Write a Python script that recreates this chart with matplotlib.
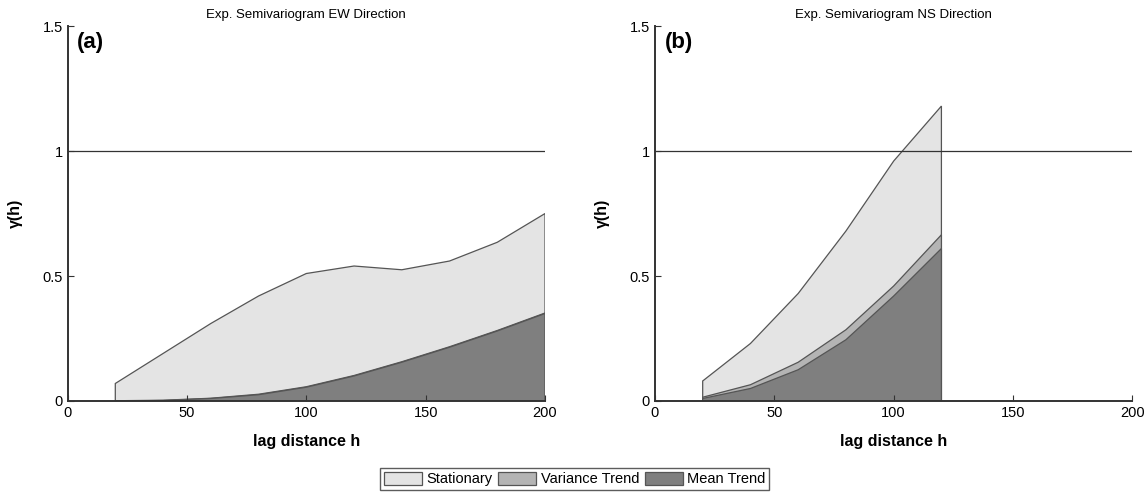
import matplotlib.pyplot as plt
import numpy as np

plt.rcParams['font.family'] = ['Liberation Sans', 'DejaVu Sans']

# EW direction (a)
lagEW = [20, 40, 60, 80, 100, 120, 140, 160, 180, 200]
statEW = [0.07, 0.19, 0.31, 0.42, 0.51, 0.54, 0.525, 0.56, 0.635, 0.75]
varEW = [0.001, 0.003, 0.011, 0.027, 0.057, 0.102, 0.157, 0.217, 0.282, 0.352]
meanEW = [0.0, 0.002, 0.01, 0.025, 0.055, 0.10, 0.155, 0.215, 0.28, 0.35]

# NS direction (b)
lagNS = [20, 40, 60, 80, 100, 120]
statNS = [0.08, 0.23, 0.43, 0.68, 0.96, 1.18]
varNS = [0.015, 0.065, 0.155, 0.285, 0.46, 0.665]
meanNS = [0.01, 0.05, 0.125, 0.245, 0.42, 0.61]

titles = ['Exp. Semivariogram EW Direction', 'Exp. Semivariogram NS Direction']
panelLabels = ['(a)', '(b)']
seriesNames = ['Stationary', 'Variance Trend', 'Mean Trend']
colors = ['#e4e4e4', '#b4b4b4', '#7f7f7f']
xticks = [0, 50, 100, 150, 200]
yticks = [0, 0.5, 1, 1.5]
yticklabels = ['0', '0.5', '1', '1.5']

fig = plt.figure(figsize=(11.45, 4.92), dpi=100)
axA = fig.add_axes([0.059, 0.185, 0.417, 0.762])
axB = fig.add_axes([0.572, 0.185, 0.417, 0.762])

data = [(lagEW, statEW, varEW, meanEW), (lagNS, statNS, varNS, meanNS)]
handles = []
for k, ax in enumerate([axA, axB]):
    lag, st, va, me = data[k]
    lag = np.array(lag)
    hs = []
    for vals, c in zip([st, va, me], colors):
        # close the area at both ends so the vertical edges show
        xs = np.concatenate([[lag[0]], lag, [lag[-1]]])
        ys = np.concatenate([[0], vals, [0]])
        h = ax.fill(xs, ys, facecolor=c, edgecolor='#555555', linewidth=0.9)[0]
        hs.append(h)
    handles = hs
    ax.axhline(1, color='#333333', linewidth=0.9, zorder=5)
    ax.set_xlim(0, 200)
    ax.set_ylim(0, 1.5)
    ax.set_xticks(xticks)
    ax.set_xticklabels([str(t) for t in xticks], fontsize=10.5)
    ax.set_yticks(yticks)
    ax.set_yticklabels(yticklabels, fontsize=10.5)
    ax.tick_params(direction='in', length=4, width=0.8, color='#333333')
    for s in ['top', 'right']:
        ax.spines[s].set_visible(False)
    for s in ['left', 'bottom']:
        ax.spines[s].set_linewidth(1.4)
        ax.spines[s].set_color('#333333')
    ax.set_title(titles[k], fontsize=9.5, pad=6)
    ax.set_xlabel('lag distance h', fontsize=11.5, fontweight='bold', labelpad=10)
    ax.set_ylabel('γ(h)', fontsize=11.5, fontweight='bold', labelpad=14)
    ax.text(0.02, 0.985, panelLabels[k], transform=ax.transAxes, fontsize=16,
            fontweight='bold', va='top', ha='left')

leg = fig.legend(handles, seriesNames, loc='lower center', bbox_to_anchor=(0.502, 0.004),
                 ncol=3, fontsize=10.5, frameon=True, fancybox=False, edgecolor='#333333',
                 handlelength=2.6, handleheight=1.0, handletextpad=0.3, columnspacing=0.4,
                 borderpad=0.25, borderaxespad=0.0)
leg.get_frame().set_linewidth(1.0)

fig.savefig('out.png', dpi=100)
